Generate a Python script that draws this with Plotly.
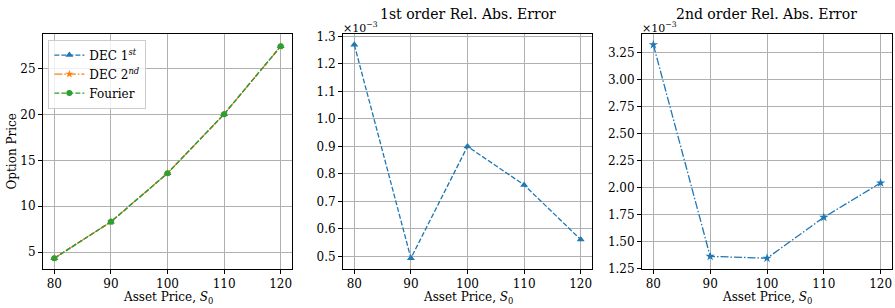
import plotly.graph_objects as go

S0 = [80, 90, 100, 110, 120]
dec1_price = [4.33, 8.30, 13.60, 20.05, 27.45]
dec2_price = [4.33, 8.30, 13.60, 20.05, 27.45]
fourier_price = [4.33, 8.30, 13.60, 20.05, 27.45]
err1 = [1.27, 0.493, 0.900, 0.760, 0.561]   # x 1e-3
err2 = [3.324, 1.362, 1.345, 1.724, 2.043]  # x 1e-3

x_ticks = [80, 90, 100, 110, 120]
y1_ticks = [5, 10, 15, 20, 25]
y2_ticks = [0.5, 0.6, 0.7, 0.8, 0.9, 1.0, 1.1, 1.2, 1.3]
y3_ticks = [1.25, 1.50, 1.75, 2.00, 2.25, 2.50, 2.75, 3.00, 3.25]

BLUE = "#1f77b4"
ORANGE = "#ff7f0e"
GREEN = "#2ca02c"
FONT = "DejaVu Serif"
DASH = "5px,2px"
DASHDOT = "8px,2px,1.5px,2px"

fig = go.Figure()

fig.add_trace(go.Scatter(x=S0, y=dec1_price, mode="lines+markers", name="DEC 1<sup><i>st</i></sup>",
                         line=dict(color=BLUE, width=1.3, dash=DASH),
                         marker=dict(symbol="triangle-up", size=7, color=BLUE),
                         xaxis="x", yaxis="y"))
fig.add_trace(go.Scatter(x=S0, y=dec2_price, mode="lines+markers", name="DEC 2<sup><i>nd</i></sup>",
                         line=dict(color=ORANGE, width=1.3, dash=DASHDOT),
                         marker=dict(symbol="star", size=6, color=ORANGE),
                         xaxis="x", yaxis="y"))
fig.add_trace(go.Scatter(x=S0, y=fourier_price, mode="lines+markers", name="Fourier",
                         line=dict(color=GREEN, width=1.3, dash=DASH),
                         marker=dict(symbol="circle", size=6, color=GREEN),
                         xaxis="x", yaxis="y"))
fig.add_trace(go.Scatter(x=S0, y=err1, mode="lines+markers", showlegend=False,
                         line=dict(color=BLUE, width=1.3, dash=DASH),
                         marker=dict(symbol="triangle-up", size=7, color=BLUE),
                         xaxis="x2", yaxis="y2"))
fig.add_trace(go.Scatter(x=S0, y=err2, mode="lines+markers", showlegend=False,
                         line=dict(color=BLUE, width=1.3, dash=DASHDOT),
                         marker=dict(symbol="star", size=7, color=BLUE),
                         xaxis="x3", yaxis="y3"))

ydom = [1 - 269 / 308, 1 - 34 / 308]
xdoms = [[43 / 895, 292 / 895], [343 / 895, 592 / 895], [642 / 895, 892 / 895]]

def xax(dom, anchor):
    return dict(domain=dom, anchor=anchor, range=[78, 122], tickvals=x_ticks,
                showgrid=True, gridcolor="#b0b0b0", gridwidth=1,
                showline=True, linecolor="black", linewidth=1, mirror=True,
                ticks="outside", ticklen=4, tickcolor="black", zeroline=False,
                automargin=False,
                tickfont=dict(family=FONT, size=12, color="black"))

def yax(anchor, rng, tv, fmt):
    return dict(domain=ydom, anchor=anchor, range=rng, tickvals=tv,
                ticktext=[fmt.format(v) for v in tv],
                showgrid=True, gridcolor="#b0b0b0", gridwidth=1,
                showline=True, linecolor="black", linewidth=1, mirror=True,
                ticks="outside", ticklen=4, tickcolor="black", zeroline=False,
                automargin=False,
                tickfont=dict(family=FONT, size=12, color="black"))

fig.update_layout(
    width=895, height=308,
    margin=dict(l=0, r=0, t=0, b=0, autoexpand=False),
    paper_bgcolor="white", plot_bgcolor="white",
    font=dict(family=FONT, size=12, color="black"),
    xaxis=xax(xdoms[0], "y"),
    xaxis2=xax(xdoms[1], "y2"),
    xaxis3=xax(xdoms[2], "y3"),
    yaxis=yax("x", [3.15, 28.8], y1_ticks, "{:d}"),
    yaxis2=yax("x2", [0.454, 1.309], y2_ticks, "{:.1f}"),
    yaxis3=yax("x3", [1.245, 3.423], y3_ticks, "{:.2f}"),
    legend=dict(x=xdoms[0][0] + 0.006, y=ydom[1] - 0.018, xanchor="left", yanchor="top",
                bgcolor="rgba(255,255,255,0.8)", bordercolor="#cccccc", borderwidth=1,
                font=dict(family=FONT, size=12), tracegroupgap=0, itemwidth=30),
    showlegend=True,
)

ann = []
for i, xd in enumerate(xdoms):
    ann.append(dict(text="Asset Price, <i>S</i><sub>0</sub>", x=(xd[0] + xd[1]) / 2, y=1 - 288 / 308,
                    xref="paper", yref="paper", showarrow=False, xanchor="center", yanchor="top",
                    font=dict(family=FONT, size=12)))
ann.append(dict(text="Option Price", x=12 / 895, y=(ydom[0] + ydom[1]) / 2, textangle=-90,
                xref="paper", yref="paper", showarrow=False, xanchor="center", yanchor="middle",
                font=dict(family=FONT, size=12)))
ann.append(dict(text="1st order Rel. Abs. Error", x=(xdoms[1][0] + xdoms[1][1]) / 2, y=1 - 14 / 308,
                xref="paper", yref="paper", showarrow=False, xanchor="center", yanchor="middle",
                font=dict(family=FONT, size=14)))
ann.append(dict(text="2nd order Rel. Abs. Error", x=(xdoms[2][0] + xdoms[2][1]) / 2, y=1 - 14 / 308,
                xref="paper", yref="paper", showarrow=False, xanchor="center", yanchor="middle",
                font=dict(family=FONT, size=14)))
for xd in xdoms[1:]:
    ann.append(dict(text="×10<sup>−3</sup>", x=xd[0] - 0.002, y=1 - 27 / 308,
                    xref="paper", yref="paper", showarrow=False, xanchor="left", yanchor="middle",
                    font=dict(family=FONT, size=11)))
fig.update_layout(annotations=ann)

fig.write_html("out.html", config={"displayModeBar": False},
               post_script="document.body.style.margin='0';document.body.style.overflow='hidden';")
